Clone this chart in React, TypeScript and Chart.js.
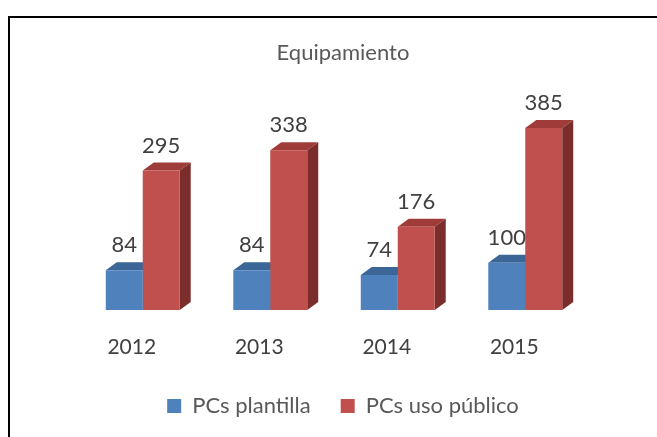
import React, { useEffect, useRef } from "react";
import { Chart, registerables } from "chart.js";

Chart.register(...registerables);

const categories = ["2012", "2013", "2014", "2015"];
const pcsPlantilla = [84, 84, 74, 100];
const pcsUsoPublico = [295, 338, 176, 385];
const seriesNames = ["PCs plantilla", "PCs uso público"];
const chartTitle = "Equipamiento";
const yMax = 400;

const FONT = "Lato, 'Open Sans', sans-serif";
const DX = 11;
const DY = 8;

const frontColors = ["#4F81BD", "#C0504D"];
const faceColors = [
  { top: "#3B6697", side: "#2E5280" },
  { top: "#9F3C39", side: "#7B2D2B" },
];

const depthPlugin = {
  id: "depth3d",
  beforeDatasetsDraw(chart: any) {
    const ctx = chart.ctx;
    ctx.save();
    chart.data.datasets.forEach((_ds: any, i: number) => {
      const fc = faceColors[i];
      const meta = chart.getDatasetMeta(i);
      meta.data.forEach((el: any) => {
        const { x, y, base, width } = el.getProps(["x", "y", "base", "width"], true);
        const l = x - width / 2;
        const r = x + width / 2;
        ctx.fillStyle = fc.top;
        ctx.beginPath();
        ctx.moveTo(l, y);
        ctx.lineTo(l + DX, y - DY);
        ctx.lineTo(r + DX, y - DY);
        ctx.lineTo(r, y);
        ctx.closePath();
        ctx.fill();
        ctx.fillStyle = fc.side;
        ctx.beginPath();
        ctx.moveTo(r, y);
        ctx.lineTo(r + DX, y - DY);
        ctx.lineTo(r + DX, base - DY);
        ctx.lineTo(r, base);
        ctx.closePath();
        ctx.fill();
      });
    });
    ctx.restore();
  },
  afterDatasetsDraw(chart: any) {
    const ctx = chart.ctx;
    ctx.save();
    ctx.font = `22px ${FONT}`;
    ctx.fillStyle = "#404040";
    ctx.textAlign = "center";
    ctx.textBaseline = "middle";
    chart.data.datasets.forEach((ds: any, i: number) => {
      const meta = chart.getDatasetMeta(i);
      meta.data.forEach((el: any, j: number) => {
        const { x, y } = el.getProps(["x", "y"], true);
        ctx.fillText(String(ds.data[j]), x, y - DY - 17);
      });
    });
    ctx.restore();
  },
};

export default function App() {
  const ref = useRef<HTMLCanvasElement>(null);
  useEffect(() => {
    if (!ref.current) return;
    const chart = new Chart(ref.current, {
      type: "bar",
      data: {
        labels: categories,
        datasets: [
          {
            label: seriesNames[0],
            data: pcsPlantilla,
            backgroundColor: frontColors[0],
            borderWidth: 0,
            categoryPercentage: 0.58,
            barPercentage: 1,
          },
          {
            label: seriesNames[1],
            data: pcsUsoPublico,
            backgroundColor: frontColors[1],
            borderWidth: 0,
            categoryPercentage: 0.58,
            barPercentage: 1,
          },
        ],
      },
      options: {
        responsive: false,
        animation: false,
        layout: { padding: { left: 79, right: 50, top: 40, bottom: 10 } },
        plugins: {
          title: {
            display: true,
            text: chartTitle,
            color: "#595959",
            font: { family: FONT, size: 22, weight: "normal" },
            padding: { top: 0, bottom: 54.6 },
          },
          legend: {
            position: "bottom",
            labels: {
              boxWidth: 14,
              boxHeight: 14,
              padding: 30,
              color: "#595959",
              font: { family: FONT, size: 22 },
            },
          },
          tooltip: { enabled: false },
        },
        scales: {
          x: {
            grid: { display: false, drawTicks: false },
            border: { display: false },
            ticks: {
              color: "#404040",
              font: { family: FONT, size: 21 },
              padding: 25,
              labelOffset: -11,
            },
            afterFit: (s: any) => {
              s.height = 55;
            },
          },
          y: {
            position: "right",
            min: 0,
            max: yMax,
            grid: { display: false, drawTicks: false },
            border: { display: false },
            ticks: { display: false },
            afterFit: (s: any) => {
              s.width = 18;
            },
          },
        },
      },
      plugins: [depthPlugin],
    } as any);
    return () => chart.destroy();
  }, []);

  return (
    <div>
      <canvas
        ref={ref}
        width={657}
        height={437}
        style={{ position: "absolute", left: 0, top: 0, width: 657, height: 437 }}
      />
      <div
        style={{
          position: "absolute",
          left: 8,
          top: 16,
          width: 649,
          height: 421,
          boxSizing: "border-box",
          borderTop: "2px solid #000",
          borderLeft: "2px solid #000",
          pointerEvents: "none",
        }}
      />
    </div>
  );
}
